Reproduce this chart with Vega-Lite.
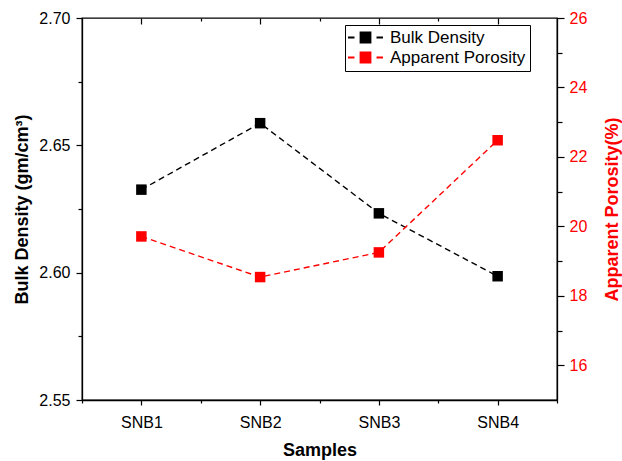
{
  "$schema": "https://vega.github.io/schema/vega-lite/v6.json",
  "width": 475,
  "height": 382,
  "autosize": "none",
  "padding": {"left": 82, "top": 18, "right": 65, "bottom": 61},
  "background": "white",
  "config": {
    "font": "Liberation Sans",
    "view": {"stroke": "black", "strokeWidth": 1.3},
    "axis": {
      "grid": false,
      "domainColor": "black",
      "domainWidth": 1.3,
      "tickColor": "black",
      "tickWidth": 1.2,
      "labelColor": "black",
      "titleColor": "black",
      "labelFont": "Liberation Sans",
      "titleFont": "Liberation Sans",
      "labelFontSize": 16,
      "titleFontSize": 18,
      "titleFontWeight": "bold",
      "labelOverlap": false,
      "labelFlush": false,
      "labelBound": false
    }
  },
  "data": {
    "values": [
      {"sample": "SNB1", "idx": 1, "bulk": 2.6326, "porosity": 19.71},
      {"sample": "SNB2", "idx": 2, "bulk": 2.6587, "porosity": 18.54},
      {"sample": "SNB3", "idx": 3, "bulk": 2.6233, "porosity": 19.25},
      {"sample": "SNB4", "idx": 4, "bulk": 2.5986, "porosity": 22.48}
    ]
  },
  "layer": [
    {
      "encoding": {
        "x": {
          "field": "idx",
          "type": "quantitative",
          "scale": {"domain": [0.5, 4.5], "nice": false, "zero": false},
          "axis": {
            "orient": "bottom",
            "title": "Samples",
            "values": [1, 2, 3, 4],
            "labelExpr": "'SNB' + datum.value",
            "tickSize": 5,
            "labelPadding": 9,
            "titlePadding": 11
          }
        },
        "y": {
          "field": "bulk",
          "type": "quantitative",
          "scale": {"domain": [2.55, 2.7], "nice": false, "zero": false},
          "axis": {
            "orient": "left",
            "title": "Bulk Density (gm/cm³)",
            "values": [2.55, 2.6, 2.65, 2.7],
            "format": ".2f",
            "tickSize": 6,
            "labelPadding": 6,
            "titlePadding": 7
          }
        },
        "color": {
          "datum": "Bulk Density",
          "type": "nominal",
          "scale": {"domain": ["Bulk Density", "Apparent Porosity"], "range": ["#000000", "#FF0000"]},
          "legend": {
            "title": null,
            "orient": "none",
            "legendX": 263,
            "legendY": 7,
            "direction": "vertical",
            "fillColor": "white",
            "strokeColor": "black",
            "padding": 4,
            "symbolType": "M-3.5,0H-2.2M-1,-1H1V1H-1ZM2.2,0H3.5",
            "symbolSize": 100,
            "symbolStrokeWidth": 1.8,
            "symbolOffset": 8,
            "symbolDash": [],
            "labelOffset": 16,
            "labelFont": "Liberation Sans",
            "labelFontSize": 17,
            "labelColor": "black",
            "rowPadding": 1,
            "encode": {
              "symbols": {
                "update": {
                  "fill": {"scale": "color", "field": "value"},
                  "stroke": {"scale": "color", "field": "value"}
                }
              }
            }
          }
        }
      },
      "layer": [
        {"mark": {"type": "line", "strokeDash": [6, 4], "strokeWidth": 1.4}},
        {"mark": {"type": "point", "shape": "square", "filled": true, "size": 110, "opacity": 1}}
      ]
    },
    {
      "encoding": {
        "x": {
          "field": "idx",
          "type": "quantitative",
          "scale": {"domain": [0.5, 4.5], "nice": false, "zero": false},
          "axis": {
            "orient": "top",
            "title": null,
            "values": [1, 2, 3, 4],
            "labels": false,
            "domain": false,
            "tickSize": -6
          }
        },
        "y": {
          "field": "porosity",
          "type": "quantitative",
          "scale": {"domain": [15, 26], "nice": false, "zero": false},
          "axis": {
            "orient": "right",
            "title": "Apparent Porosity(%)",
            "titleColor": "#FF0000",
            "titleAngle": -90,
            "titleBaseline": "top",
            "labelColor": "#FF0000",
            "values": [16, 18, 20, 22, 24, 26],
            "tickSize": 7,
            "labelPadding": 5,
            "titlePadding": 17
          }
        },
        "color": {
          "datum": "Apparent Porosity",
          "type": "nominal"
        }
      },
      "layer": [
        {"mark": {"type": "line", "strokeDash": [6, 4], "strokeWidth": 1.4}},
        {"mark": {"type": "point", "shape": "square", "filled": true, "size": 110, "opacity": 1}}
      ]
    },
    {
      "mark": {"type": "point", "opacity": 0},
      "encoding": {
        "x": {
          "field": "idx",
          "type": "quantitative",
          "scale": {"domain": [0.5, 4.5], "nice": false, "zero": false},
          "axis": {
            "orient": "bottom",
            "title": null,
            "values": [0.5, 1.5, 2.5, 3.5, 4.5],
            "labels": false,
            "domain": false,
            "tickSize": 3
          }
        },
        "y": {
          "field": "bulk",
          "type": "quantitative",
          "scale": {"domain": [2.55, 2.7], "nice": false, "zero": false},
          "axis": {
            "orient": "left",
            "title": null,
            "values": [2.575, 2.625, 2.675],
            "labels": false,
            "domain": false,
            "tickSize": 4
          }
        }
      }
    },
    {
      "mark": {"type": "point", "opacity": 0},
      "encoding": {
        "x": {
          "field": "idx",
          "type": "quantitative",
          "scale": {"domain": [0.5, 4.5], "nice": false, "zero": false},
          "axis": {
            "orient": "top",
            "title": null,
            "values": [1.5, 2.5, 3.5],
            "labels": false,
            "domain": false,
            "tickSize": -3
          }
        },
        "y": {
          "field": "porosity",
          "type": "quantitative",
          "scale": {"domain": [15, 26], "nice": false, "zero": false},
          "axis": {
            "orient": "right",
            "title": null,
            "values": [17, 19, 21, 23, 25],
            "labels": false,
            "domain": false,
            "tickSize": 5
          }
        }
      }
    }
  ],
  "resolve": {
    "scale": {"x": "independent", "y": "independent"},
    "axis": {"x": "independent", "y": "independent"}
  }
}
